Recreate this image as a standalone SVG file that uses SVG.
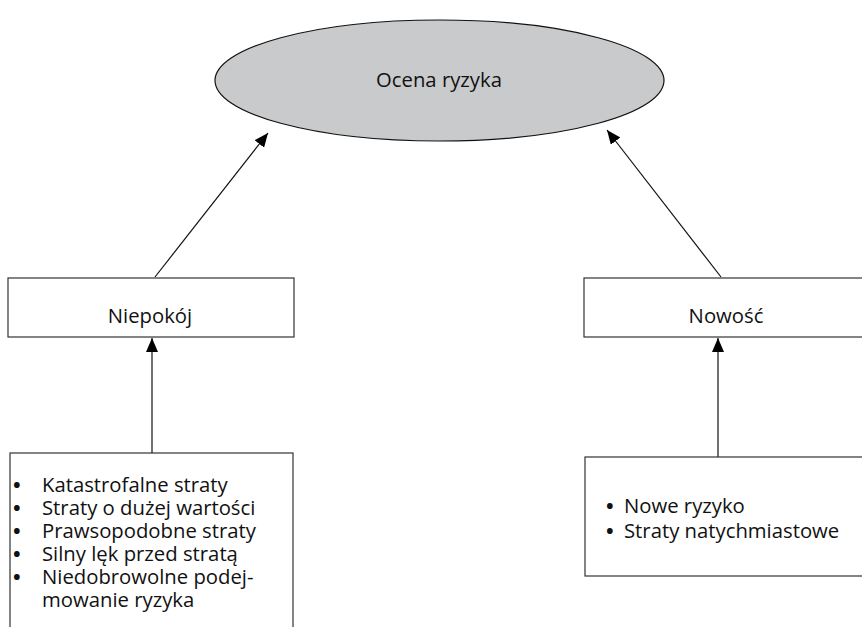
<svg xmlns="http://www.w3.org/2000/svg" width="862" height="627" viewBox="0 0 862 627">
<defs>
<style>
.box{fill:#fff;stroke:#333;stroke-width:1.2}
.ell{fill:#c9cacc;stroke:#111;stroke-width:1.2}
.t{font-family:"Open Sans","Noto Sans",sans-serif;font-size:20.3px;fill:#111}
.c{text-anchor:middle}
.b{font-weight:bold}
.edge{stroke:#111;stroke-width:1.2;fill:none;marker-end:url(#ah)}
</style>
<marker id="ah" markerUnits="userSpaceOnUse" markerWidth="14" markerHeight="12" viewBox="0 0 14 12" refX="14" refY="6" orient="auto">
<path d="M0,0 L14,6 L0,12 z" fill="#000"/>
</marker>
</defs>
<rect width="862" height="627" fill="#fff"/>
<g id="connectors">
<line class="edge" x1="155" y1="277" x2="268" y2="133"/>
<line class="edge" x1="721" y1="277" x2="607" y2="130"/>
<line class="edge" x1="152" y1="453" x2="152" y2="338"/>
<line class="edge" x1="718" y1="457" x2="718" y2="338"/>
</g>
<g id="ocena">
<ellipse class="ell" cx="439.5" cy="80.5" rx="224.5" ry="60.5"/>
<text class="t c" x="439" y="87">Ocena ryzyka</text>
</g>
<g id="niepokoj">
<rect class="box" x="8" y="278" width="286" height="59"/>
<text class="t c" x="150" y="323">Niepokój</text>
</g>
<g id="nowosc">
<rect class="box" x="584" y="278" width="290" height="59"/>
<text class="t c" x="726" y="323">Nowość</text>
</g>
<g id="lista-lewa">
<rect class="box" x="10" y="453" width="283" height="190"/>
<g class="t">
<text class="b" x="13" y="492">•</text><text x="42" y="492">Katastrofalne straty</text>
<text class="b" x="13" y="515">•</text><text x="42" y="515">Straty o dużej wartości</text>
<text class="b" x="13" y="538">•</text><text x="42" y="538">Prawsopodobne straty</text>
<text class="b" x="13" y="561">•</text><text x="42" y="561">Silny lęk przed stratą</text>
<text class="b" x="13" y="584">•</text><text x="42" y="584">Niedobrowolne podej-</text>
<text x="42" y="607">mowanie ryzyka</text>
</g>
</g>
<g id="lista-prawa">
<rect class="box" x="585" y="457" width="290" height="119"/>
<g class="t">
<text class="b" x="606" y="513">•</text><text x="624" y="513">Nowe ryzyko</text>
<text class="b" x="606" y="538">•</text><text x="624" y="538">Straty natychmiastowe</text>
</g>
</g>
</svg>
